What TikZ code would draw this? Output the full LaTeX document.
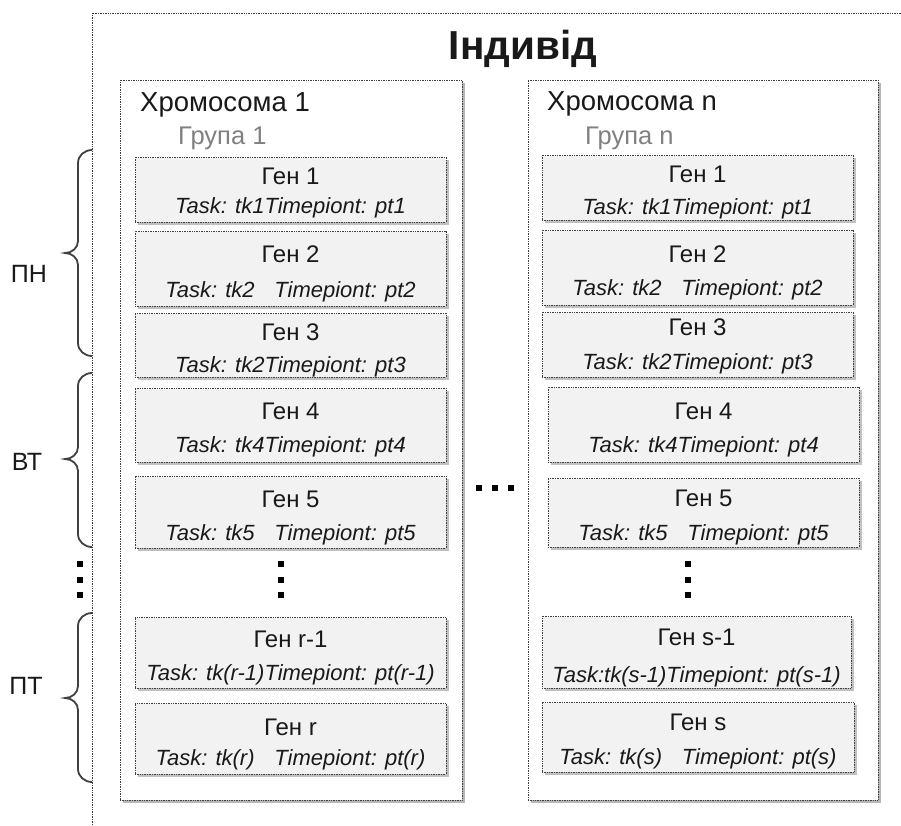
\documentclass[tikz,border=0pt]{standalone}
\usepackage{fontspec}
\setmainfont{Liberation Sans}
\usetikzlibrary{shadows,fit}
\newcommand\mkgene[9]{%
  \node[gbox, fit={(#2,#3) (#4,#5)}] (#1) {};
  \node[gtitle] (#1-title) at ({(#2+#4)/2},#7) {#6};
  \node[gtask] (#1-task) at ({(#2+#4)/2},#9) {#8};
}
\newcommand\mkbrace[3]{%
  \draw[bracestyle] (92,#1) to[out=180,in=90] (78,#1+13) -- (78,#3-12)
    to[out=-90,in=0] (65,#3) to[out=0,in=90] (78,#3+12) -- (78,#2-13)
    to[out=-90,in=180] (92,#2);
}
\begin{document}
\begin{tikzpicture}[x=1pt,y=-1pt,
  frame/.style={draw=black!75, densely dotted, line width=0.7pt},
  cbox/.style={draw=black!75, densely dotted, line width=0.7pt, fill=white, inner sep=0pt,
    drop shadow={shadow xshift=2.5pt, shadow yshift=-2.5pt, fill=black!35, opacity=0.8}},
  gbox/.style={draw=black!75, densely dotted, line width=0.7pt, fill=black!5, inner sep=0pt,
    drop shadow={shadow xshift=2.5pt, shadow yshift=-2.5pt, fill=black!30, opacity=0.8}},
  gtitle/.style={anchor=base, inner sep=0pt, text=black!90, font=\fontsize{24}{27}\selectfont},
  gtask/.style={anchor=base, inner sep=0pt, text=black!90, font=\itshape\fontsize{22}{25}\selectfont},
  ctitle/.style={anchor=base west, inner sep=0pt, text=black!90, font=\fontsize{27.5}{31}\selectfont},
  cgroup/.style={anchor=base west, inner sep=0pt, text=black!50, font=\fontsize{25.5}{29}\selectfont},
  sidelab/.style={anchor=base, inner sep=0pt, text=black!90, font=\fontsize{25}{28}\selectfont},
  bracestyle/.style={draw=black!75, line width=1.8pt},
  dotsq/.style={fill=black, inner sep=0pt, minimum size=6pt}]
\useasboundingbox (0,0) rectangle (901,825);
\fill[white] (0,0) rectangle (901,825);

% outer frame (top and left edges)
\draw[frame] (901,13) -- (92,13) -- (92,825);
\node[anchor=base, inner sep=0pt, text=black!90, font=\bfseries\fontsize{40.5}{44}\selectfont] (title) at (523,59) {Індивід};

% chromosome boxes
\node[cbox, fit={(120,80) (462,800)}] (c1) {};
\node[cbox, fit={(528,80) (878,800)}] (cn) {};
\node[ctitle] (c1-name) at (140,111) {Хромосома 1};
\node[cgroup] (c1-group) at (178,144) {Група 1};
\node[ctitle] (cn-name) at (547,110) {Хромосома n};
\node[cgroup] (cn-group) at (585,144) {Група n};

% genes of chromosome 1
\mkgene{g1}{135}{157}{446}{222}{Ген 1}{184}{Task: tk1Timepiont: pt1}{213}
\mkgene{g2}{135}{231}{446}{306}{Ген 2}{262}{Task: tk2\hspace{0.9em}Timepiont: pt2}{297}
\mkgene{g3}{135}{313}{446}{377}{Ген 3}{340}{Task: tk2Timepiont: pt3}{372}
\mkgene{g4}{135}{388}{446}{462}{Ген 4}{419}{Task: tk4Timepiont: pt4}{452}
\mkgene{g5}{135}{476}{446}{548}{Ген 5}{507}{Task: tk5\hspace{0.9em}Timepiont: pt5}{540}
\mkgene{gr1}{135}{617}{446}{688}{Ген r-1}{647}{Task: tk(r-1)Timepiont: pt(r-1)}{680}
\mkgene{gr}{135}{703}{446}{774}{Ген r}{735}{Task: tk(r)\hspace{0.9em}Timepiont: pt(r)}{765}

% genes of chromosome n
\mkgene{n1}{542}{155}{853}{220}{Ген 1}{182}{Task: tk1Timepiont: pt1}{214}
\mkgene{n2}{542}{230}{853}{305}{Ген 2}{262}{Task: tk2\hspace{0.9em}Timepiont: pt2}{295}
\mkgene{n3}{542}{312}{853}{377}{Ген 3}{335}{Task: tk2Timepiont: pt3}{369}
\mkgene{n4}{548}{387}{859}{462}{Ген 4}{419}{Task: tk4Timepiont: pt4}{452}
\mkgene{n5}{548}{478}{859}{547}{Ген 5}{506}{Task: tk5\hspace{0.9em}Timepiont: pt5}{540}
\mkgene{ns1}{542}{616}{851}{688}{Ген s-1}{645}{Task:tk(s-1)Timepiont: pt(s-1)}{682}
\mkgene{ns}{542}{702}{854}{772}{Ген s}{730}{Task: tk(s)\hspace{0.9em}Timepiont: pt(s)}{764}

% vertical dots inside chromosomes and at the left
\foreach \yy [count=\i] in {564,580,595}{
  \node[dotsq] (d1-\i) at (281,\yy) {};
  \node[dotsq] (dn-\i) at (688,\yy) {};
  \node[dotsq] (dl-\i) at (80,\yy) {};
}
% horizontal dots between chromosomes
\foreach \xx [count=\i] in {479,495,511}{
  \node[dotsq] (dm-\i) at (\xx,488) {};
}

% braces and side labels
\mkbrace{150}{356}{253}
\mkbrace{373}{547}{459}
\mkbrace{613}{782}{698}
\node[sidelab] (lab-pn) at (29,282) {ПН};
\node[sidelab] (lab-vt) at (27,470) {ВТ};
\node[sidelab] (lab-pt) at (26,694) {ПТ};
\end{tikzpicture}
\end{document}
